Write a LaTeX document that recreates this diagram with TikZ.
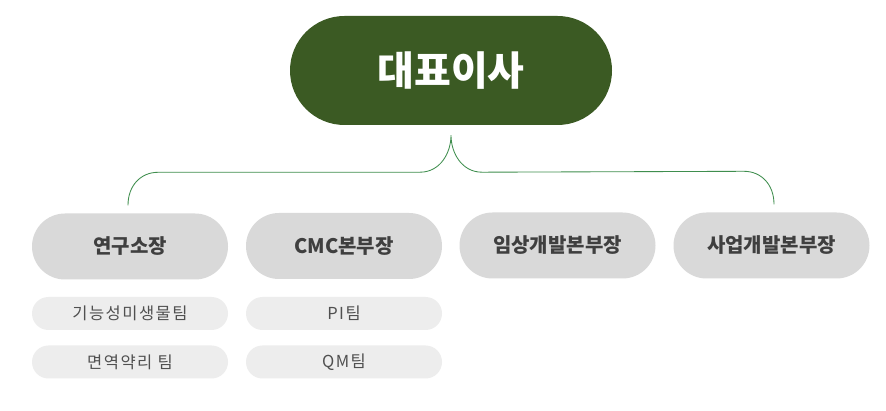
\documentclass[tikz,border=0pt]{standalone}
\usepackage{fontspec}
\setmainfont{Noto Sans CJK KR}
\usetikzlibrary{calc}
\definecolor{topgreen}{HTML}{3B5A23}
\definecolor{linegreen}{HTML}{3F8E4E}
\definecolor{boxgray}{HTML}{D9D9D9}
\definecolor{subgray}{HTML}{EDEDED}
\definecolor{txtdark}{HTML}{3F3F3F}
\definecolor{txtsub}{HTML}{505050}
\tikzset{
  topbox/.style={fill=topgreen, text=white, minimum width=322pt, minimum height=109pt, rounded corners=54.5pt, inner sep=0pt, font=\fontsize{40}{44}\selectfont\bfseries},
  deptbox/.style={fill=boxgray, text=txtdark, minimum width=196pt, minimum height=66pt, rounded corners=33pt, inner sep=0pt, font=\fontsize{20}{24}\selectfont\bfseries},
  teambox/.style={fill=subgray, text=txtsub, minimum width=196pt, minimum height=33pt, rounded corners=16.5pt, inner sep=0pt, font=\fontsize{16.5}{19}\selectfont\addfontfeatures{LetterSpace=9}},
  conn/.style={draw=linegreen, line width=0.85pt}
}
\begin{document}
\begin{tikzpicture}[x=1pt,y=-1pt]
\useasboundingbox[fill=white] (0,0) rectangle (886,411);
\node[topbox] (ceo) at (451,70.5) {대표이사};
\node[deptbox] (d1) at (130,246.5) {연구소장};
\node[deptbox] (d2) at (344,246) {CMC본부장};
\node[deptbox] (d3) at (557.5,245.5) {임상개발본부장};
\node[deptbox] (d4) at (771.5,245.5) {사업개발본부장};
\node[teambox] (t11) at (130,313.5) {기능성미생물팀};
\node[teambox] (t12) at (130,362) {면역약리 팀};
\node[teambox] (t21) at (344,313.5) {PI팀};
\node[teambox] (t22) at (344,362) {QM팀};
\coordinate (p) at ([yshift=-10pt]ceo.south);
\coordinate (a1) at ([yshift=8pt,xshift=-2pt]d1.north);
\coordinate (a4) at ([yshift=8pt,xshift=2.5pt]d4.north);
\coordinate (h1) at ($(a1)+(30,-33)$);
\coordinate (h2) at ($(p)+(-31,37)$);
\coordinate (h3) at ($(p)+(31,37)$);
\coordinate (h4) at ($(a4)+(-30,-33)$);
\draw[conn] (a1) .. controls ($(a1)+(0,-20)$) and ($(h1)+(-17,0)$) .. (h1)
  -- (h2) .. controls ($(h2)+(20,0)$) and ($(p)+(0,18)$) .. (p)
  .. controls ($(p)+(0,18)$) and ($(h3)+(-20,0)$) .. (h3)
  -- (h4) .. controls ($(h4)+(17,0)$) and ($(a4)+(0,-20)$) .. (a4);
\end{tikzpicture}
\end{document}
